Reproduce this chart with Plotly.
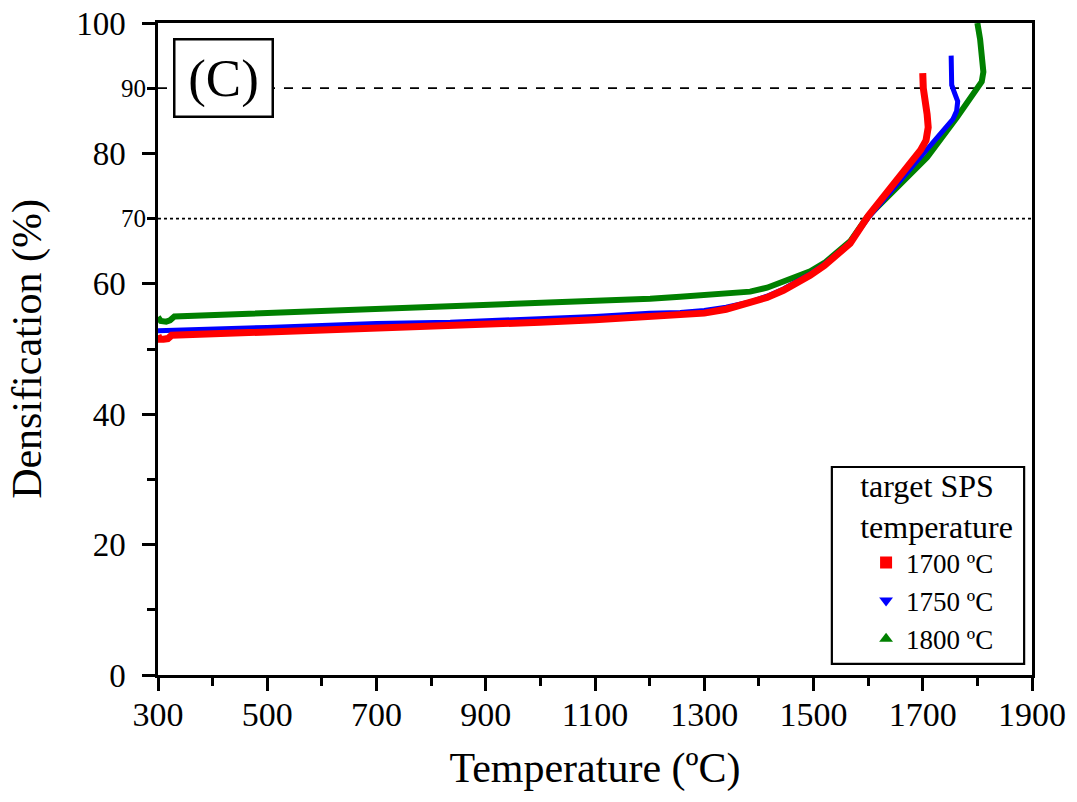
import plotly.graph_objects as go

# Data (Temperature °C, Densification %)
t_1700 = [300, 303, 310, 318, 325, 400, 500, 600, 700, 835, 1000, 1100, 1200, 1256, 1300, 1340, 1384, 1415, 1445,
          1470, 1494, 1520, 1543, 1567, 1600, 1650, 1696, 1706, 1710, 1708, 1703, 1701, 1700]
d_1700 = [52.1, 51.5, 51.5, 51.6, 52.1, 52.3, 52.6, 52.9, 53.2, 53.6, 54.1, 54.5, 55.0, 55.2, 55.5, 56.1, 57.0, 57.9, 59.0,
          60.1, 61.3, 62.8, 64.4, 66.2, 70.4, 75.6, 80.5, 82.0, 84.0, 86.0, 88.0, 90.0, 92.3]

t_1750 = [300, 400, 500, 600, 700, 835, 1000, 1100, 1200, 1256, 1300, 1340, 1384, 1415, 1445, 1470, 1494, 1520, 1543, 1567,
          1600, 1650, 1700, 1755, 1762, 1764, 1758, 1753, 1752]
d_1750 = [52.8, 53.0, 53.3, 53.6, 53.9, 54.1, 54.6, 55.0, 55.5, 55.6, 55.9, 56.4, 57.2, 58.1, 59.2, 60.3, 61.5, 63.0, 64.5, 66.3,
          70.1, 75.0, 79.8, 85.2, 86.5, 88.0, 89.3, 90.5, 95.0]

t_1800 = [300, 305, 315, 322, 330, 400, 500, 600, 700, 835, 1000, 1100, 1201, 1256, 1320, 1384, 1415, 1445, 1470, 1494,
          1520, 1543, 1567, 1598, 1650, 1708, 1763, 1795, 1808, 1811, 1809, 1805, 1802, 1800]
d_1800 = [54.9, 54.3, 54.2, 54.4, 55.0, 55.2, 55.5, 55.8, 56.1, 56.6, 57.0, 57.4, 57.7, 58.0, 58.3, 58.8, 59.4, 60.3, 61.0,
          61.9, 63.2, 64.7, 66.5, 70.2, 74.6, 79.4, 85.6, 89.4, 91.0, 92.5, 95.0, 97.5, 99.0, 100.0]

series = [
    ("1800 ºC", t_1800, d_1800, "#008000", 6, "triangle-up"),
    ("1750 ºC", t_1750, d_1750, "#0000ff", 5, "triangle-down"),
    ("1700 ºC", t_1700, d_1700, "#ff0000", 7, "square"),
]

x_major = [300, 500, 700, 900, 1100, 1300, 1500, 1700, 1900]
x_minor = [400, 600, 800, 1000, 1200, 1400, 1600, 1800]
y_major = [0, 20, 40, 60, 80, 100]
y_minor = [10, 30, 50, 70, 90]
y_small_labels = [70, 90]

FONT = "Liberation Serif"

fig = go.Figure()
for name, xs, ys, col, w, sym in series:
    fig.add_trace(go.Scatter(x=xs, y=ys, mode="lines", line=dict(color=col, width=w),
                             showlegend=False, hoverinfo="skip"))

for name, xs, ys, col, w, sym in reversed(series):
    fig.add_trace(go.Scatter(x=[None], y=[None], mode="markers", name=name,
                             marker=dict(color=col, symbol=sym, size=12)))

fig.add_hline(y=90, line=dict(color="black", width=1.8, dash="dash"), layer="below")
fig.add_hline(y=70, line=dict(color="black", width=1.8, dash="dot"), layer="below")

# legend frame
fig.add_shape(type="rect", xref="paper", yref="paper", x0=0.771, x1=0.991, y0=0.017, y1=0.319,
              line=dict(color="black", width=2.2), fillcolor="white", layer="below")

for v in y_small_labels:
    fig.add_annotation(x=0, y=v, xref="paper", yref="y", xanchor="right", yanchor="middle",
                       text=str(v), showarrow=False, xshift=-10,
                       font=dict(family=FONT, size=25, color="black"))

fig.add_annotation(x=0.017, y=0.977, xref="paper", yref="paper", xanchor="left", yanchor="top",
                   text="(C)", showarrow=False, font=dict(family=FONT, size=53, color="black"),
                   bordercolor="black", borderwidth=2.5, bgcolor="white", borderpad=8,
                   width=80)

fig.update_layout(
    width=1077, height=802,
    margin=dict(l=158, r=45, t=23, b=127, autoexpand=False),
    plot_bgcolor="white", paper_bgcolor="white",
    font=dict(family=FONT, color="black"),
    legend=dict(
        title=dict(text="target SPS<br>temperature", font=dict(family=FONT, size=32), side="top center"),
        font=dict(family=FONT, size=27),
        x=0.801, xanchor="left", y=0.018, yanchor="bottom",
        borderwidth=0, bgcolor="rgba(0,0,0,0)",
        itemwidth=30, indentation=8,
    ),
    xaxis=dict(
        range=[300, 1900], title=dict(text="Temperature (ºC)", font=dict(family=FONT, size=42), standoff=22),
        tickvals=x_major, ticktext=[str(v) for v in x_major], tickfont=dict(family=FONT, size=34),
        ticks="outside", ticklen=13, tickwidth=2.5, tickcolor="black", ticklabelstandoff=-6,
        minor=dict(tickvals=x_minor, ticks="outside", ticklen=8, tickwidth=2.5, tickcolor="black"),
        showline=True, linecolor="black", linewidth=2.5, mirror=True, showgrid=False, zeroline=False,
        automargin=False,
    ),
    yaxis=dict(
        range=[0, 100], title=dict(text="Densification (%)", font=dict(family=FONT, size=42), standoff=22),
        tickvals=y_major, ticktext=[str(v) for v in y_major], tickfont=dict(family=FONT, size=33),
        ticks="outside", ticklen=13, tickwidth=2.5, tickcolor="black", ticklabelstandoff=10,
        minor=dict(tickvals=y_minor, ticks="outside", ticklen=8, tickwidth=2.5, tickcolor="black"),
        showline=True, linecolor="black", linewidth=2.5, mirror=True, showgrid=False, zeroline=False,
        automargin=False,
    ),
)

fig.write_html("out.html")
